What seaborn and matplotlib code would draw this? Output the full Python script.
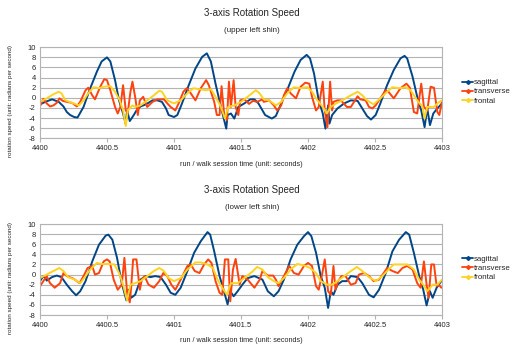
import numpy as np
import pandas as pd
import seaborn as sns
import matplotlib.pyplot as plt
from matplotlib.lines import Line2D

# upper left shin
up_sag_t = [4400.0, 4400.04, 4400.09, 4400.14, 4400.175, 4400.2, 4400.225, 4400.255, 4400.28, 4400.325,
            4400.375, 4400.425, 4400.46, 4400.5, 4400.525, 4400.56, 4400.59, 4400.62, 4400.64, 4400.65,
            4400.67, 4400.7, 4400.72, 4400.75, 4400.79, 4400.84, 4400.875, 4400.91, 4400.94, 4400.96,
            4401.0, 4401.025, 4401.06, 4401.11, 4401.16, 4401.21, 4401.245, 4401.275, 4401.31, 4401.35,
            4401.39, 4401.4, 4401.425, 4401.45, 4401.48, 4401.525, 4401.57, 4401.6, 4401.63, 4401.68,
            4401.73, 4401.76, 4401.8, 4401.85, 4401.9, 4401.945, 4401.99, 4402.015, 4402.045, 4402.08,
            4402.11, 4402.13, 4402.15, 4402.16, 4402.18, 4402.22, 4402.27, 4402.32, 4402.37, 4402.405,
            4402.44, 4402.47, 4402.505, 4402.54, 4402.59, 4402.64, 4402.69, 4402.72, 4402.74, 4402.78,
            4402.815, 4402.845, 4402.87, 4402.89, 4402.91, 4402.935, 4402.965, 4403.0]
up_sag_v = [-1.3, -0.8, -0.3, -0.8, -1.7, -2.8, -3.4, -3.8, -3.9, -1.8,
            1.9, 5.2, 7.2, 8.0, 7.2, 3.5, -0.5, -3.1, -5.2, -2.5,
            -4.6, -3.4, -2.5, -1.7, -1.3, -0.5, -0.5, -0.8, -2.1, -3.4,
            -3.8, -3.4, -1.1, 2.5, 5.8, 8.1, 8.8, 7.2, 2.8, -1.8,
            -6.1, -3.4, -3.1, -4.1, -1.8, -1.1, -0.3, -0.3, -1.1, -3.4,
            -4.1, -3.6, -1.1, 1.9, 5.2, 7.5, 8.5, 7.8, 4.8, -0.5,
            -3.1, -6.1, -1.5, -5.1, -3.4, -2.1, -1.1, -0.5, -0.6, -2.1,
            -3.6, -4.3, -3.4, -1.1, 2.5, 5.5, 7.8, 8.3, 7.8, 4.2,
            0.2, -2.5, -5.8, -2.1, -5.4, -3.1, -2.1, -1.1]

up_tra_t = [4400.0, 4400.025, 4400.05, 4400.075, 4400.1, 4400.125, 4400.145, 4400.17, 4400.2, 4400.24,
            4400.275, 4400.3, 4400.34, 4400.36, 4400.39, 4400.41, 4400.45, 4400.48, 4400.5, 4400.525,
            4400.56, 4400.58, 4400.6, 4400.62, 4400.64, 4400.655, 4400.675, 4400.69, 4400.71, 4400.73,
            4400.745, 4400.77, 4400.8, 4400.84, 4400.875, 4400.925, 4400.95, 4400.975, 4401.01, 4401.04,
            4401.07, 4401.095, 4401.125, 4401.16, 4401.2, 4401.24, 4401.26, 4401.3, 4401.32, 4401.34,
            4401.355, 4401.375, 4401.395, 4401.41, 4401.425, 4401.445, 4401.46, 4401.48, 4401.495, 4401.525,
            4401.56, 4401.59, 4401.62, 4401.66, 4401.67, 4401.71, 4401.745, 4401.77, 4401.8, 4401.82,
            4401.845, 4401.87, 4401.91, 4401.945, 4401.98, 4402.01, 4402.03, 4402.06, 4402.08, 4402.11,
            4402.125, 4402.145, 4402.165, 4402.18, 4402.19, 4402.22, 4402.245, 4402.29, 4402.32, 4402.37,
            4402.39, 4402.43, 4402.455, 4402.48, 4402.505, 4402.54, 4402.58, 4402.6, 4402.64, 4402.69,
            4402.735, 4402.76, 4402.79, 4402.815, 4402.845, 4402.865, 4402.89, 4402.915, 4402.94, 4402.965,
            4402.98, 4403.0]
up_tra_v = [-1.7, -0.2, -1.1, -1.7, -1.5, -1.0, -0.1, -0.6, -0.8, -1.0,
            -1.7, -0.8, 1.5, 2.0, 0.5, -0.3, 2.2, 3.7, 3.5, 1.5,
            -1.8, -3.1, -1.8, 2.5, -2.5, -3.0, 1.2, 3.2, 0.2, -3.4,
            -0.5, 0.2, -1.8, -0.8, -0.3, -0.3, -1.1, -1.8, -2.5, -0.8,
            1.2, 1.9, 0.9, -0.5, 1.9, 3.5, 2.5, -0.8, -3.4, -3.4,
            2.3, -3.4, -4.4, 3.2, -1.8, 3.5, -1.8, -3.4, -0.5, -0.3,
            -1.2, -0.6, -0.8, -0.3, -0.8, -0.5, -1.5, -2.5, -1.5, 0.5,
            1.9, 0.9, -0.1, 2.2, 3.0, 2.8, 0.2, -2.5, -1.8, 3.2,
            -2.5, -5.8, 3.2, -2.5, -0.8, -0.5, -0.5, -1.8, -1.8, 0.3,
            -0.3, -0.5, -1.8, -2.1, -1.5, -0.1, 1.5, 1.2, -0.1, 1.9,
            2.8, 2.0, -2.8, -3.1, 2.8, -1.8, -2.5, 2.2, 2.0, -2.8,
            -3.4, -0.8]

up_fro_t = [4400.0, 4400.05, 4400.1, 4400.14, 4400.16, 4400.19, 4400.24, 4400.29, 4400.325, 4400.36,
            4400.4, 4400.44, 4400.475, 4400.525, 4400.56, 4400.595, 4400.62, 4400.64, 4400.655, 4400.69,
            4400.71, 4400.75, 4400.8, 4400.85, 4400.89, 4400.91, 4400.95, 4401.0, 4401.05, 4401.1,
            4401.145, 4401.19, 4401.24, 4401.275, 4401.31, 4401.35, 4401.38, 4401.405, 4401.45, 4401.5,
            4401.55, 4401.61, 4401.635, 4401.67, 4401.71, 4401.76, 4401.8, 4401.845, 4401.895, 4401.945,
            4401.995, 4402.03, 4402.07, 4402.11, 4402.14, 4402.17, 4402.21, 4402.255, 4402.32, 4402.37,
            4402.405, 4402.44, 4402.49, 4402.54, 4402.59, 4402.63, 4402.68, 4402.73, 4402.765, 4402.815,
            4402.855, 4402.87, 4402.89, 4402.94, 4402.98, 4403.0]
up_fro_v = [-0.8, -0.1, 0.7, 1.2, 0.9, -0.5, -1.0, -1.5, -0.5, 0.9,
            2.1, 1.9, 2.2, 2.3, 1.2, -0.5, -2.5, -5.6, -2.5, -1.5,
            -1.8, -1.5, -0.5, 0.5, 1.4, 1.2, -0.5, -1.1, -0.5, 0.9,
            1.9, 1.7, 1.5, 1.7, 0.2, -1.8, -4.1, -1.8, -1.5, -0.8,
            0.2, 1.5, 1.0, -0.3, -0.5, -1.5, -0.8, 0.9, 2.1, 1.9,
            2.1, 1.2, -0.5, -1.8, -3.1, -1.8, -1.1, -0.5, 0.5, 1.2,
            0.5, -0.5, -1.3, -0.1, 1.2, 2.1, 1.9, 2.1, 1.5, -0.5,
            -1.8, -4.1, -1.8, -1.8, -0.8, -0.5]

# lower left shin
lo_sag_t = [4400.0, 4400.025, 4400.04, 4400.05, 4400.09, 4400.125, 4400.16, 4400.2, 4400.24, 4400.27,
            4400.3, 4400.34, 4400.39, 4400.44, 4400.49, 4400.51, 4400.54, 4400.575, 4400.61, 4400.645,
            4400.66, 4400.68, 4400.71, 4400.75, 4400.79, 4400.825, 4400.86, 4400.9, 4400.94, 4400.975,
            4401.01, 4401.05, 4401.1, 4401.15, 4401.2, 4401.25, 4401.27, 4401.3, 4401.34, 4401.37,
            4401.4, 4401.42, 4401.445, 4401.475, 4401.51, 4401.55, 4401.6, 4401.66, 4401.7, 4401.745,
            4401.78, 4401.82, 4401.87, 4401.92, 4401.97, 4402.0, 4402.025, 4402.06, 4402.095, 4402.125,
            4402.15, 4402.17, 4402.19, 4402.22, 4402.255, 4402.29, 4402.32, 4402.37, 4402.405, 4402.455,
            4402.49, 4402.53, 4402.58, 4402.63, 4402.68, 4402.73, 4402.755, 4402.79, 4402.83, 4402.86,
            4402.885, 4402.91, 4402.93, 4402.96, 4402.995]
lo_sag_v = [-1.3, -0.3, -0.7, -1.2, -0.5, -0.2, -0.5, -2.0, -3.3, -4.1,
            -3.3, -1.3, 2.6, 5.9, 7.7, 7.9, 6.9, 3.3, -1.7, -5.1,
            -3.0, -4.6, -4.0, -1.0, -0.3, -0.5, -0.3, -0.5, -2.0, -3.6,
            -4.0, -2.6, 0.7, 4.3, 6.6, 8.4, 7.9, 4.6, -0.3, -3.0,
            -5.9, -3.3, -4.3, -3.3, -2.0, -0.7, -0.3, -1.0, -3.3, -4.3,
            -3.3, -1.0, 3.0, 5.9, 7.6, 8.4, 7.6, 4.3, -0.3, -2.6,
            -6.6, -3.3, -4.0, -2.0, -1.3, -1.3, -0.3, -0.5, -1.7, -4.0,
            -4.5, -3.0, 0.3, 4.6, 6.9, 8.4, 7.9, 4.3, -0.3, -3.0,
            -6.1, -3.3, -4.6, -2.6, -1.3]

lo_tra_t = [4400.0, 4400.025, 4400.05, 4400.075, 4400.11, 4400.15, 4400.175, 4400.2, 4400.24, 4400.26,
            4400.295, 4400.325, 4400.355, 4400.39, 4400.41, 4400.44, 4400.475, 4400.5, 4400.52, 4400.55,
            4400.58, 4400.61, 4400.63, 4400.65, 4400.67, 4400.68, 4400.695, 4400.72, 4400.745, 4400.76,
            4400.78, 4400.81, 4400.85, 4400.89, 4400.92, 4400.95, 4400.98, 4401.01, 4401.05, 4401.1,
            4401.125, 4401.155, 4401.19, 4401.225, 4401.255, 4401.28, 4401.31, 4401.34, 4401.36, 4401.38,
            4401.405, 4401.42, 4401.44, 4401.46, 4401.49, 4401.51, 4401.55, 4401.6, 4401.64, 4401.66,
            4401.7, 4401.74, 4401.76, 4401.78, 4401.82, 4401.86, 4401.895, 4401.93, 4401.97, 4402.0,
            4402.03, 4402.06, 4402.08, 4402.105, 4402.125, 4402.15, 4402.17, 4402.19, 4402.205, 4402.225,
            4402.25, 4402.28, 4402.32, 4402.355, 4402.38, 4402.42, 4402.455, 4402.49, 4402.53, 4402.565,
            4402.59, 4402.63, 4402.67, 4402.705, 4402.74, 4402.78, 4402.815, 4402.84, 4402.865, 4402.885,
            4402.9, 4402.92, 4402.94, 4402.96, 4402.975, 4402.995]
lo_tra_v = [-2.3, -1.3, -0.3, -1.7, -2.6, -1.7, 0.3, -0.3, -0.7, -1.0,
            -1.7, -0.3, 1.3, 1.7, 0.0, 0.3, 2.6, 3.0, 2.6, -1.0,
            -3.0, -2.0, 3.3, -3.6, -5.5, -2.6, 3.0, 3.0, -3.0, -1.0,
            -0.3, -2.0, -2.6, -1.3, 0.3, -0.3, -2.0, -3.0, -1.0, 1.7,
            2.0, 0.7, 0.3, 2.0, 3.0, 2.3, -1.3, -3.6, -4.0, 3.0,
            3.0, -5.3, 1.0, 3.1, -2.0, -0.3, -1.0, -2.6, -1.0, 0.7,
            -0.2, -0.2, -1.0, -2.3, -0.3, 1.7, 0.3, 0.0, 1.7, 2.3,
            1.7, -2.3, -3.0, 0.0, 3.0, -3.3, -4.0, 1.7, -3.0, -1.3,
            -0.3, -0.3, -2.0, -1.7, 0.0, 0.3, -0.3, -1.3, -1.0, 0.3,
            1.3, 0.7, 0.3, 1.3, 1.7, 1.0, -1.7, -2.6, 2.6, -2.0,
            -4.6, 2.0, 2.0, -2.3, -2.0, -2.6]

lo_fro_t = [4400.0, 4400.05, 4400.1, 4400.145, 4400.175, 4400.21, 4400.26, 4400.3, 4400.34, 4400.375,
            4400.425, 4400.46, 4400.51, 4400.555, 4400.59, 4400.62, 4400.65, 4400.675, 4400.71, 4400.75,
            4400.8, 4400.85, 4400.89, 4400.925, 4400.96, 4401.0, 4401.05, 4401.1, 4401.16, 4401.2,
            4401.25, 4401.29, 4401.325, 4401.36, 4401.395, 4401.425, 4401.475, 4401.525, 4401.59, 4401.62,
            4401.66, 4401.7, 4401.745, 4401.78, 4401.82, 4401.87, 4401.92, 4401.97, 4402.015, 4402.06,
            4402.095, 4402.145, 4402.18, 4402.22, 4402.27, 4402.32, 4402.365, 4402.405, 4402.455, 4402.505,
            4402.555, 4402.6, 4402.64, 4402.69, 4402.74, 4402.79, 4402.83, 4402.86, 4402.89, 4402.93,
            4402.965, 4403.0]
lo_fro_v = [-0.7, 0.0, 0.7, 1.3, 0.7, -0.5, -1.0, -1.7, -0.3, 1.0,
            2.3, 2.1, 2.1, 2.0, 0.3, -2.0, -5.1, -2.0, -1.7, -1.3,
            -0.3, 0.7, 1.3, 0.7, -0.7, -1.3, -0.7, 1.0, 2.4, 2.4,
            2.0, 1.3, -1.0, -2.6, -4.0, -1.7, -1.7, -0.7, 0.7, 1.5,
            1.0, -0.5, -1.3, -1.7, -0.7, 1.0, 2.1, 1.8, 1.3, 0.3,
            -1.3, -2.0, -2.0, -1.3, -0.3, 0.7, 1.5, 0.7, -0.5, -1.3,
            -0.3, 1.0, 2.0, 2.0, 2.0, 1.0, -1.0, -2.0, -3.3, -2.0,
            -2.0, -1.0]

series_names = ['sagittal', 'transverse', 'frontal']
colors = ['#004586', '#ff420e', '#ffd320']
x_ticks = [4400, 4400.5, 4401, 4401.5, 4402, 4402.5, 4403]
x_ticklabels = ['4400', '4400.5', '4401', '4401.5', '4402', '4402.5', '4403']
y_ticks = list(range(-8, 11, 2))

upper = {'sagittal': (up_sag_t, up_sag_v), 'transverse': (up_tra_t, up_tra_v), 'frontal': (up_fro_t, up_fro_v)}
lower = {'sagittal': (lo_sag_t, lo_sag_v), 'transverse': (lo_tra_t, lo_tra_v), 'frontal': (lo_fro_t, lo_fro_v)}


def to_frame(d):
    parts = []
    for name in series_names:
        t, v = d[name]
        parts.append(pd.DataFrame({'time': t, 'speed': v, 'axis': name}))
    return pd.concat(parts, ignore_index=True)


sns.set_style('white')
plt.rcParams['font.family'] = ['Liberation Sans', 'DejaVu Sans']
plt.rcParams['axes.unicode_minus'] = False

fig = plt.figure(figsize=(5.12, 3.52), dpi=100)
panels = [(0.6072, upper, '(upper left shin)'), (0.1051, lower, '(lower left shin)')]

for bottom, data, subtitle in panels:
    ax = fig.add_axes([0.0781, bottom, 0.7852, 0.2585])
    df = to_frame(data)
    sns.lineplot(data=df, x='time', y='speed', hue='axis', hue_order=series_names,
                 palette=colors, estimator=None, sort=False, linewidth=1.4, legend=False, ax=ax)
    ax.set_xlim(4400, 4403)
    ax.set_ylim(-8, 10)
    ax.set_xticks(x_ticks)
    ax.set_xticklabels(x_ticklabels)
    ax.set_yticks(y_ticks)
    ax.grid(axis='y', color='#b3b3b3', linewidth=0.8)
    ax.grid(axis='x', visible=False)
    for s in ax.spines.values():
        s.set_color('#b3b3b3')
        s.set_linewidth(0.8)
    ax.tick_params(axis='x', length=3, color='#b3b3b3', labelsize=5.5, pad=2, bottom=True)
    ax.tick_params(axis='y', length=0, labelsize=5.5, pad=3)
    ax.set_xlabel('run / walk session time (unit: seconds)', fontsize=5.2, labelpad=6)
    ax.set_ylabel('rotation speed (unit: radians per second)', fontsize=4.5)
    ax.yaxis.set_label_coords(-0.068, 0.41)
    ax.set_axisbelow(True)

    top_px = (1 - bottom - 0.2585) * 352
    fig.text(0.492, 1 - (top_px - 34) / 352, '3-axis Rotation Speed', ha='center', va='center', fontsize=7)
    fig.text(0.492, 1 - (top_px - 17) / 352, subtitle, ha='center', va='center', fontsize=5.8)

    handles = [Line2D([0], [0], color=c, lw=1.3, marker='D', markersize=2) for c in colors]
    fig.legend(handles, series_names, loc='center left',
               bbox_to_anchor=(0.903, bottom + 0.2585 / 2 + 0.003), frameon=False, fontsize=5.7,
               handlelength=1.4, handletextpad=0.1, labelspacing=0.2, borderaxespad=0, borderpad=0)

fig.savefig('out.png', dpi=100)
